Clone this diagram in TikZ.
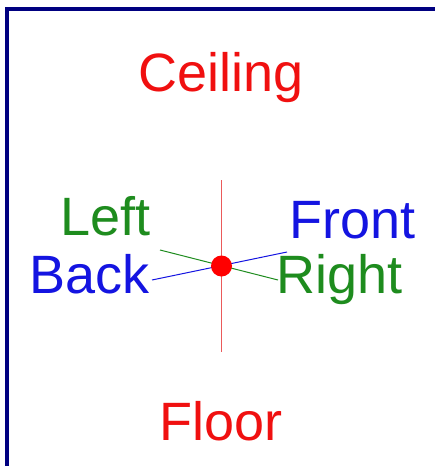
\documentclass[tikz,border=0pt]{standalone}
\usepackage{fontspec}
\setmainfont{Liberation Sans}
\definecolor{navy}{RGB}{0,0,128}
\definecolor{lblred}{RGB}{240,16,16}
\definecolor{lblgreen}{RGB}{30,140,30}
\definecolor{lblblue}{RGB}{20,20,225}
\definecolor{vertred}{RGB}{235,90,90}
\begin{document}
\begin{tikzpicture}[x=1pt,y=-1pt,
  lbl/.style={inner sep=0pt,font=\fontsize{54}{60}\selectfont},
  axis/.style={line width=1pt},
]
\useasboundingbox (0,0) rectangle (435,466);
\fill[white] (0,0) rectangle (435,466);
\draw[navy,line width=4pt] (6.5,8.5) rectangle (445,480);
% axes
\coordinate (top) at (221.5,180);
\coordinate (bot) at (221.5,352);
\coordinate (gL) at (160,250);
\coordinate (gR) at (278,280);
\coordinate (bL) at (152,280);
\coordinate (bR) at (287,252);
\draw[line width=1.8pt,draw=vertred] (top) -- (bot);
\draw[axis,draw=lblgreen] (gL) -- (gR);
\draw[axis,draw=lblblue] (bL) -- (bR);
\node[circle,fill=red,inner sep=0pt,minimum size=21pt] (c) at (221.5,266) {};
% labels
\node[lbl,text=lblred,anchor=base] (ceiling) at (221,91) {Ceiling};
\node[lbl,text=lblred,anchor=base] (floor) at (221,440) {Floor};
\node[lbl,text=lblgreen,anchor=base east] (left) at (151,235) {Left};
\node[lbl,text=lblblue,anchor=base east] (back) at (150,293) {Back};
\node[lbl,text=lblblue,anchor=base west] (front) at (289,238) {Front};
\node[lbl,text=lblgreen,anchor=base west] (right) at (276,293) {Right};
\end{tikzpicture}
\end{document}
